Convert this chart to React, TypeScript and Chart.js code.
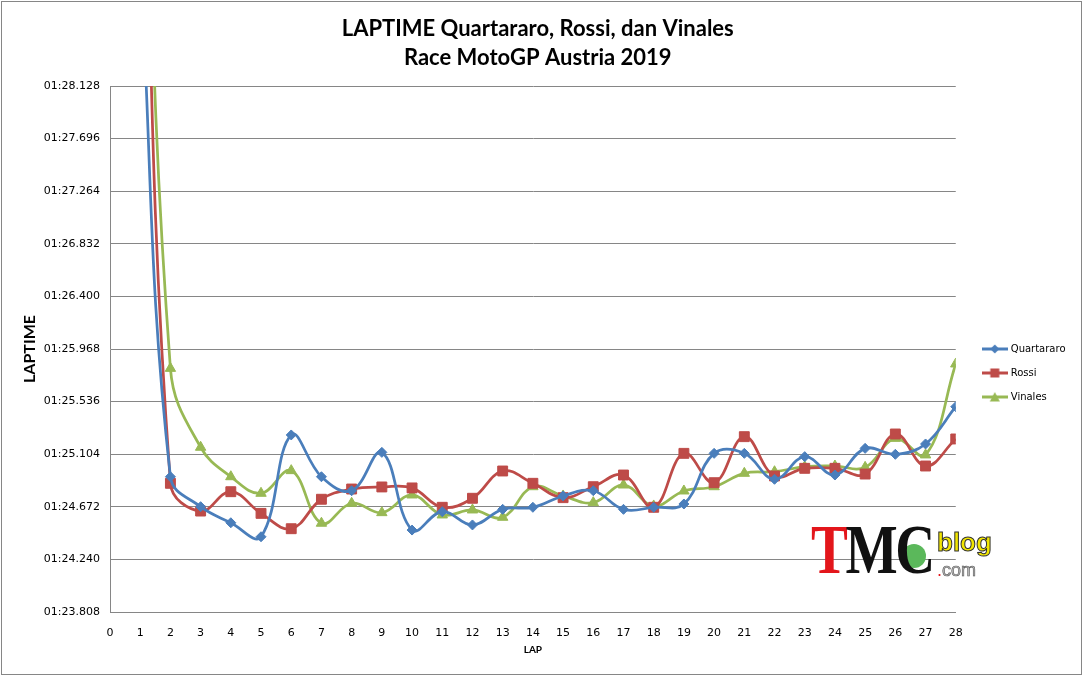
import React, { useEffect, useRef } from "react";
import { Chart, registerables } from "chart.js";

Chart.register(...registerables);

// ---- data (lap times in seconds) ----
const laps = [1, 2, 3, 4, 5, 6, 7, 8, 9, 10, 11, 12, 13, 14, 15, 16, 17, 18, 19, 20, 21, 22, 23, 24, 25, 26, 27, 28];
const quartararo = [89.15, 84.919, 84.673, 84.541, 84.426, 85.262, 84.919, 84.804, 85.119, 84.481, 84.632, 84.523, 84.651, 84.668, 84.761, 84.804, 84.651, 84.668, 84.695, 85.111, 85.111, 84.898, 85.084, 84.933, 85.152, 85.103, 85.188, 85.494];
const rossi = [91.5, 84.865, 84.637, 84.796, 84.618, 84.492, 84.734, 84.818, 84.835, 84.827, 84.668, 84.742, 84.966, 84.865, 84.747, 84.837, 84.933, 84.668, 85.111, 84.87, 85.248, 84.925, 84.988, 84.988, 84.941, 85.27, 85.007, 85.229];
const vinales = [91.9, 85.809, 85.161, 84.919, 84.783, 84.969, 84.537, 84.701, 84.624, 84.769, 84.605, 84.646, 84.586, 84.837, 84.761, 84.706, 84.851, 84.679, 84.802, 84.837, 84.947, 84.96, 85.001, 85.007, 84.996, 85.234, 85.098, 85.845];
const seriesNames = ["Quartararo", "Rossi", "Vinales"];
const yTicks = [83.808, 84.24, 84.672, 85.104, 85.536, 85.968, 86.4, 86.832, 87.264, 87.696, 88.128];
const xMin = 0;
const xMax = 28;
const titleLines = ["LAPTIME Quartararo, Rossi, dan Vinales", "Race MotoGP Austria 2019"];

const COLORS = ["#4a7ebb", "#be4b48", "#98b954"];
const STYLES = ["rectRot", "rect", "triangle"];
const RADII = [5, 7, 6];

function fmtTime(v: number): string {
  const m = Math.floor(v / 60);
  const s = v - m * 60;
  const mm = String(m).padStart(2, "0");
  const ss = s.toFixed(3).padStart(6, "0");
  return mm + ":" + ss;
}

function makeLegendIcon(color: string, style: string): HTMLCanvasElement {
  const c = document.createElement("canvas");
  c.width = 26;
  c.height = 12;
  const ctx = c.getContext("2d")!;
  ctx.strokeStyle = color;
  ctx.lineWidth = 3;
  ctx.beginPath();
  ctx.moveTo(0, 6);
  ctx.lineTo(26, 6);
  ctx.stroke();
  ctx.fillStyle = color;
  ctx.beginPath();
  if (style === "rectRot") {
    ctx.moveTo(13, 1.5);
    ctx.lineTo(17.5, 6);
    ctx.lineTo(13, 10.5);
    ctx.lineTo(8.5, 6);
  } else if (style === "rect") {
    ctx.rect(8.5, 1.5, 9, 9);
  } else {
    ctx.moveTo(13, 1);
    ctx.lineTo(18, 10.5);
    ctx.lineTo(8, 10.5);
  }
  ctx.closePath();
  ctx.fill();
  return c;
}

export default function App() {
  const ref = useRef<HTMLCanvasElement | null>(null);

  useEffect(() => {
    if (!ref.current) return;
    const values = [quartararo, rossi, vinales];
    const icons = COLORS.map((c, i) => makeLegendIcon(c, STYLES[i]));
    const datasets = values.map((vals, i) => ({
      label: seriesNames[i],
      data: laps.map((l, j) => ({ x: l, y: vals[j] })),
      borderColor: COLORS[i],
      backgroundColor: COLORS[i],
      borderWidth: 2.75,
      pointStyle: STYLES[i],
      pointRadius: RADII[i],
      pointBorderWidth: 1,
      pointBorderColor: COLORS[i],
      pointBackgroundColor: COLORS[i],
      tension: 0.4,
      fill: false,
      xAxisID: "x",
      yAxisID: "y",
    }));

    const chart = new Chart(ref.current, {
      type: "line",
      data: { datasets },
      options: {
        animation: false,
        responsive: false,
        layout: { padding: { left: 0, top: 0, right: 8.5, bottom: 0 } },
        plugins: {
          title: {
            display: true,
            text: titleLines,
            color: "#000",
            font: { family: "Lato", size: 22, weight: "bold", lineHeight: 29 / 22 },
            padding: { top: 14, bottom: 14 },
          },
          legend: {
            display: true,
            position: "right",
            fullSize: false,
            title: { display: true, text: " ", font: { size: 10, lineHeight: 1.2 }, padding: 18 },
            labels: {
              usePointStyle: true,
              pointStyleWidth: 22,
              boxHeight: 10,
              padding: 14,
              color: "#000",
              font: { family: "DejaVu Sans", size: 10 },
              generateLabels: (ch: any) =>
                (Chart.defaults.plugins.legend.labels.generateLabels as any)(ch).map((it: any, i: number) => ({
                  ...it,
                  pointStyle: icons[i],
                })),
            },
          },
          tooltip: { enabled: false },
        },
        scales: {
          x: {
            type: "linear",
            position: "bottom",
            min: xMin,
            max: xMax,
            afterFit: (s: any) => {
              s.height = 64;
            },
            ticks: {
              stepSize: 1,
              autoSkip: false,
              maxRotation: 0,
              padding: 7,
              color: "#000",
              font: { family: "DejaVu Sans", size: 11 },
            },
            grid: { display: false },
            border: { display: true, color: "#868686", width: 1 },
            title: {
              display: true,
              text: "LAP",
              color: "#000",
              font: { family: "Lato", size: 10, weight: "bold", lineHeight: 1.2 },
              padding: { top: 0, bottom: 20 },
            },
          },
          y: {
            type: "linear",
            position: "left",
            min: yTicks[0],
            max: yTicks[yTicks.length - 1],
            afterBuildTicks: (s: any) => {
              s.ticks = yTicks.map((v) => ({ value: v }));
            },
            afterFit: (s: any) => {
              s.width = 110;
            },
            ticks: {
              padding: 10,
              color: "#000",
              font: { family: "DejaVu Sans", size: 11 },
              callback: (v: any) => fmtTime(Number(v)),
            },
            grid: { display: true, color: "#868686", lineWidth: 1, drawTicks: false },
            border: { display: true, color: "#868686", width: 1 },
            title: {
              display: true,
              text: "LAPTIME",
              color: "#000",
              font: { family: "Lato", size: 16, weight: "bold", lineHeight: 1.2 },
              padding: { top: 20.4, bottom: 0 },
            },
          },
          gap: {
            type: "linear",
            position: "right",
            display: true,
            afterFit: (s: any) => {
              s.width = 14;
            },
            ticks: { display: false },
            grid: { display: false },
            border: { display: false },
          },
        },
      } as any,
    });
    return () => chart.destroy();
  }, []);

  return (
    <div style={{ position: "absolute", left: 0, top: 0, width: 1084, height: 676, background: "#fff" }}>
      <canvas ref={ref} width={1084} height={676} style={{ display: "block", width: 1084, height: 676 }} />
      <div
        style={{
          position: "absolute",
          left: 1,
          top: 1,
          width: 1079,
          height: 672,
          border: "1px solid #868686",
          pointerEvents: "none",
        }}
      />
      <div style={{ position: "absolute", left: 811, top: 515, width: 200, height: 80, pointerEvents: "none" }}>
        <div
          style={{
            position: "absolute",
            left: 91,
            top: 29,
            width: 24,
            height: 24,
            borderRadius: "50%",
            background: "#5bb85b",
          }}
        />
        <div
          style={{
            position: "absolute",
            left: 0,
            top: 0,
            transform: "scaleX(0.79)",
            transformOrigin: "left top",
            fontFamily: "Liberation Serif",
            fontWeight: "bold",
            fontSize: 70,
            lineHeight: "70px",
            letterSpacing: -3,
            whiteSpace: "nowrap",
          }}
        >
          <span style={{ color: "#e3161b" }}>T</span>
          <span style={{ color: "#111" }}>MC</span>
        </div>
        <div
          style={{
            position: "absolute",
            left: 126,
            top: 14,
            fontFamily: "Liberation Sans",
            fontWeight: "bold",
            fontSize: 26,
            lineHeight: "26px",
            color: "#f2e600",
            WebkitTextStroke: "1px #333",
            whiteSpace: "nowrap",
          }}
        >
          blog
        </div>
        <div
          style={{
            position: "absolute",
            left: 126,
            top: 46,
            fontFamily: "Liberation Sans",
            fontSize: 18,
            lineHeight: "18px",
            color: "#bbb",
            WebkitTextStroke: "0.6px #555",
            whiteSpace: "nowrap",
          }}
        >
          <span style={{ color: "#e3161b", WebkitTextStroke: "0px" }}>.</span>com
        </div>
      </div>
    </div>
  );
}
